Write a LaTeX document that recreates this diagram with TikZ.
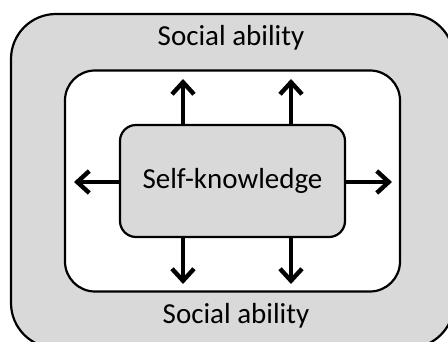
\documentclass[tikz,border=0pt]{standalone}
\usepackage{fontspec}
\setmainfont{Carlito}
\usetikzlibrary{arrows.meta, positioning}
\definecolor{panel}{HTML}{D9D9D9}

\begin{document}
\begin{tikzpicture}[x=1pt, y=-1pt, font=\fontsize{29}{34}\selectfont,
   frame/.style={rectangle, draw=black, line width=2.2pt, inner sep=0pt},
   arw/.style={-{Straight Barb[length=12pt, width=22pt, line width=4.4pt]},
     line width=4.4pt}]
 \useasboundingbox (0,0) rectangle (448,342);
 \clip (0,0) rectangle (448,342);
 \fill[white] (0,0) rectangle (448,342);
 \node[frame, fill=panel, rounded corners=45pt, minimum width=443pt,
   minimum height=334pt] (outer) at (232.5,181) {};
 \node[frame, fill=white, rounded corners=30pt, minimum width=335pt,
   minimum height=221pt] (inner) at (232.5,181) {};
 \node[frame, fill=panel, rounded corners=16pt, minimum width=225pt,
   minimum height=112pt] (kn) at (232.5,181) {Self-knowledge};
 \node (soctop) at (231,38) {Social ability};
 \node (socbot) at (236,316) {Social ability};
 % arrow ends
 \coordinate (tl) at (183,79);
 \coordinate (tr) at (291,79);
 \coordinate (bl) at (183,284);
 \coordinate (br) at (291,284);
 \coordinate (lf) at (74,182);
 \coordinate (rt) at (392,182);
 \draw[arw] (tl |- kn.north) -- (tl);
 \draw[arw] (tr |- kn.north) -- (tr);
 \draw[arw] (bl |- kn.south) -- (bl);
 \draw[arw] (br |- kn.south) -- (br);
 \draw[arw] (kn.west |- lf) -- (lf);
 \draw[arw] (kn.east |- rt) -- (rt);
\end{tikzpicture}
\end{document}
